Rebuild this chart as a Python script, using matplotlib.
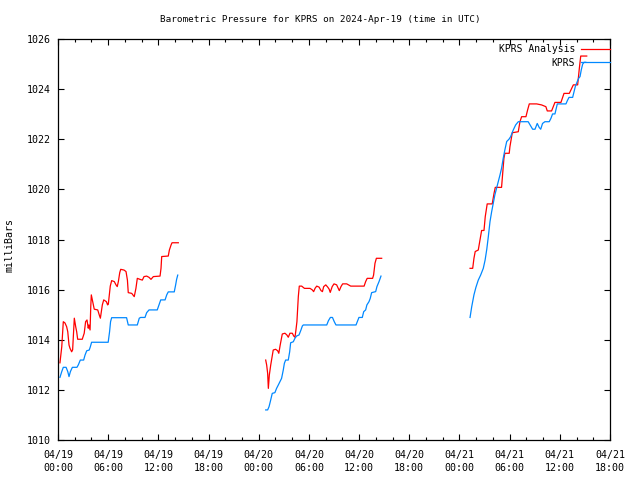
import numpy as np
import matplotlib
matplotlib.use("Agg")
import matplotlib.pyplot as plt
import matplotlib.dates as mdates

# ---- data (hours since 2024-04-19 00:00 UTC, pressure in mb) ----
an_h1 = [0.24, 0.45, 0.64, 0.83, 1.04, 1.16, 1.32, 1.44, 1.63, 1.75, 1.83, 1.95, 2.12, 2.24, 2.35, 2.90,
         3.14, 3.30, 3.47, 3.62, 3.70, 3.83, 3.91, 3.98, 4.15, 4.34, 4.75, 4.94, 5.06, 5.30, 5.46, 5.78,
         5.94, 6.02, 6.13, 6.25, 6.42, 6.73, 6.94, 7.09, 7.21, 7.38, 7.50, 7.90, 8.13, 8.30, 8.40, 8.81,
         9.00, 9.12, 9.32, 9.48, 9.80, 10.08, 10.28, 10.60, 10.88, 11.12, 11.40, 12.20, 12.32, 12.40,
         13.19, 13.31, 13.52, 13.63, 14.38]
an_p1 = [1013.08, 1013.72, 1014.72, 1014.67, 1014.52, 1014.32, 1013.79, 1013.66, 1013.52, 1013.60,
         1014.12, 1014.86, 1014.52, 1014.32, 1014.02, 1014.02, 1014.26, 1014.72, 1014.79, 1014.46,
         1014.59, 1014.39, 1015.32, 1015.79, 1015.52, 1015.22, 1015.19, 1014.99, 1014.86, 1015.39,
         1015.59, 1015.52, 1015.39, 1015.42, 1015.79, 1016.14, 1016.36, 1016.32, 1016.19, 1016.12,
         1016.32, 1016.68, 1016.81, 1016.78, 1016.72, 1016.38, 1015.88, 1015.85, 1015.77, 1015.72,
         1016.05, 1016.45, 1016.41, 1016.38, 1016.52, 1016.54, 1016.49, 1016.41, 1016.52, 1016.54,
         1016.85, 1017.32, 1017.34, 1017.58, 1017.78, 1017.87, 1017.87]

an_h2 = [24.83, 24.95, 25.07, 25.15, 25.27, 25.44, 25.56, 25.73, 26.02, 26.26, 26.40, 26.57, 26.82,
         27.13, 27.37, 27.53, 27.74, 28.01, 28.18, 28.33, 28.45, 28.57, 28.65, 28.73, 28.85, 29.14,
         29.46, 30.13, 30.40, 30.57, 30.73, 30.93, 31.21, 31.45, 31.61, 31.77, 32.01, 32.25, 32.41,
         32.55, 32.79, 33.00, 33.32, 33.52, 33.64, 33.84, 34.04, 34.52, 35.00, 36.60, 36.78, 36.97,
         37.62, 37.74, 37.90, 38.06, 38.70]
an_p2 = [1013.19, 1012.99, 1012.66, 1012.06, 1012.59, 1012.99, 1013.26, 1013.59, 1013.62, 1013.56,
         1013.46, 1013.79, 1014.23, 1014.26, 1014.19, 1014.10, 1014.26, 1014.26, 1014.15, 1014.10,
         1014.39, 1014.72, 1015.19, 1015.72, 1016.14, 1016.14, 1016.05, 1016.05, 1015.99, 1015.92,
         1016.05, 1016.14, 1016.10, 1015.96, 1015.92, 1016.12, 1016.19, 1016.10, 1016.02, 1015.89,
         1016.12, 1016.23, 1016.19, 1016.05, 1015.96, 1016.12, 1016.23, 1016.23, 1016.14, 1016.14,
         1016.32, 1016.45, 1016.45, 1016.58, 1017.05, 1017.25, 1017.25]

an_h3 = [49.26, 49.58, 49.73, 49.89, 50.25, 50.45, 50.65, 50.93, 51.09, 51.32, 51.92, 52.13, 52.28,
         53.04, 53.16, 53.32, 53.44, 53.95, 54.04, 54.31, 55.03, 55.24, 55.43, 55.95, 56.15, 56.35,
         57.23, 57.82, 58.34, 58.50, 59.02, 59.22, 59.42, 60.13, 60.34, 60.50, 61.13, 61.42, 61.62,
         62.14, 62.34, 62.50, 63.22]
an_p3 = [1016.85, 1016.85, 1017.25, 1017.52, 1017.58, 1017.98, 1018.36, 1018.36, 1018.91, 1019.42,
         1019.42, 1019.84, 1020.08, 1020.08, 1020.64, 1021.24, 1021.44, 1021.44, 1021.70, 1022.26,
         1022.30, 1022.70, 1022.90, 1022.90, 1023.17, 1023.41, 1023.41, 1023.37, 1023.30, 1023.13,
         1023.13, 1023.30, 1023.47, 1023.47, 1023.67, 1023.83, 1023.83, 1024.03, 1024.17, 1024.17,
         1024.83, 1025.32, 1025.32]

ob_h1 = [0.24, 0.45, 0.64, 0.96, 1.16, 1.32, 1.48, 1.71, 2.27, 2.43, 2.67, 3.07, 3.23, 3.43, 3.74,
         3.86, 4.02, 6.00, 6.17, 6.29, 6.42, 8.20, 8.40, 9.48, 9.72, 9.88, 10.40, 10.60, 10.88, 11.87,
         12.11, 12.28, 12.80, 13.00, 13.18, 13.90, 14.07, 14.19, 14.31]
ob_p1 = [1012.50, 1012.73, 1012.90, 1012.90, 1012.73, 1012.53, 1012.73, 1012.90, 1012.90, 1013.00,
         1013.19, 1013.19, 1013.39, 1013.56, 1013.59, 1013.72, 1013.90, 1013.90, 1014.32, 1014.72,
         1014.88, 1014.88, 1014.59, 1014.59, 1014.86, 1014.89, 1014.89, 1015.08, 1015.19, 1015.19,
         1015.43, 1015.59, 1015.59, 1015.79, 1015.91, 1015.91, 1016.19, 1016.41, 1016.58]

ob_h2 = [24.83, 25.07, 25.23, 25.38, 25.62, 25.94, 26.14, 26.34, 26.54, 26.74, 26.94, 27.06, 27.22,
         27.53, 27.70, 27.82, 28.13, 28.33, 28.53, 28.81, 29.05, 29.21, 29.33, 32.13, 32.33, 32.57,
         32.81, 33.04, 33.24, 35.63, 35.83, 35.99, 36.39, 36.55, 36.79, 36.94, 37.18, 37.34, 37.50,
         37.98, 38.14, 38.38, 38.62]
ob_p2 = [1011.20, 1011.20, 1011.33, 1011.53, 1011.86, 1011.89, 1012.06, 1012.19, 1012.33, 1012.46,
         1012.79, 1013.06, 1013.19, 1013.19, 1013.52, 1013.88, 1013.92, 1014.06, 1014.15, 1014.19,
         1014.39, 1014.55, 1014.59, 1014.59, 1014.76, 1014.89, 1014.89, 1014.72, 1014.59, 1014.59,
         1014.76, 1014.89, 1014.89, 1015.12, 1015.19, 1015.39, 1015.52, 1015.65, 1015.88, 1015.92,
         1016.12, 1016.32, 1016.54]

ob_h3 = [49.26, 49.46, 49.73, 49.97, 50.25, 50.54, 50.85, 51.06, 51.26, 51.45, 51.65, 51.85, 52.04,
         52.24, 52.44, 52.64, 52.85, 53.04, 53.24, 53.44, 53.65, 53.92, 54.12, 54.43, 54.72, 55.03,
         56.22, 56.51, 56.75, 57.03, 57.30, 57.54, 57.71, 57.94, 58.22, 58.73, 58.93, 59.14, 59.42,
         59.70, 60.74, 60.90, 61.10, 61.54, 61.70, 61.85, 62.09, 62.25, 62.41, 62.57, 62.74, 62.90,
         63.10]
ob_p3 = [1014.89, 1015.32, 1015.79, 1016.09, 1016.38, 1016.58, 1016.85, 1017.18, 1017.61, 1018.11,
         1018.71, 1019.11, 1019.44, 1019.78, 1020.04, 1020.31, 1020.58, 1020.84, 1021.24, 1021.58,
         1021.91, 1022.00, 1022.10, 1022.37, 1022.57, 1022.70, 1022.70, 1022.53, 1022.40, 1022.40,
         1022.63, 1022.47, 1022.40, 1022.63, 1022.70, 1022.70, 1022.83, 1023.01, 1023.01, 1023.41,
         1023.41, 1023.54, 1023.67, 1023.67, 1023.90, 1024.10, 1024.30, 1024.43, 1024.50, 1024.77,
         1025.00, 1025.07, 1025.07]

series_labels = ["KPRS Analysis", "KPRS"]
series_colors = ["#ff0000", "#0088ff"]
title = "Barometric Pressure for KPRS on 2024-Apr-19 (time in UTC)"
y_label = "milliBars"
start = np.datetime64("2024-04-19T00:00")
span_hours = 66
y_min, y_max = 1010, 1026


def join(segments):
    hs, ps = [], []
    for h, p in segments:
        if hs:
            hs.append(np.nan)
            ps.append(np.nan)
        hs.extend(h)
        ps.extend(p)
    hs = np.array(hs, dtype=float)
    t = np.array([start + np.timedelta64(int(round(v * 60)), "m") if np.isfinite(v)
                  else np.datetime64("NaT") for v in hs], dtype="datetime64[m]")
    return t, np.array(ps, dtype=float)


an_t, an_p = join([(an_h1, an_p1), (an_h2, an_p2), (an_h3, an_p3)])
ob_t, ob_p = join([(ob_h1, ob_p1), (ob_h2, ob_p2), (ob_h3, ob_p3)])

font = "DejaVu Sans Mono"
fs = 7.2
plt.rcParams["font.family"] = font

fig = plt.figure(figsize=(6.4, 4.8), dpi=100)
ax = fig.add_axes([58 / 640, 1 - 440 / 480, 552 / 640, 401 / 480])

ax.plot(an_t, an_p, color=series_colors[0], lw=0.9, label=series_labels[0])
ax.plot(ob_t, ob_p, color=series_colors[1], lw=0.9, label=series_labels[1])

ax.set_xlim(start, start + np.timedelta64(span_hours, "h"))
ax.set_ylim(y_min, y_max)
ax.set_yticks(np.arange(y_min, y_max + 1, 2))
ax.xaxis.set_major_locator(mdates.HourLocator(byhour=[0, 6, 12, 18]))
ax.xaxis.set_minor_locator(mdates.HourLocator(byhour=list(range(0, 24, 2))))
ax.xaxis.set_major_formatter(mdates.DateFormatter("%m/%d\n%H:%M"))

ax.tick_params(axis="both", which="both", direction="in", top=True, right=True,
               labelsize=fs, colors="black", width=0.8)
ax.tick_params(axis="both", which="major", length=4)
ax.tick_params(axis="x", which="minor", length=2.2)
ax.tick_params(axis="x", which="major", pad=7)
ax.tick_params(axis="y", which="major", pad=5)
for lab in ax.get_xticklabels():
    lab.set_linespacing(1.35)
for sp in ax.spines.values():
    sp.set_linewidth(0.9)
    sp.set_color("black")

fig.text(0.5, 1 - 19 / 480, title, ha="center", va="center", fontsize=6.7)
fig.text(10 / 640, 1 - 245 / 480, y_label, ha="center", va="center", rotation=90, fontsize=7.2)

leg = ax.legend(loc="upper right", bbox_to_anchor=(1.0, 1.0 - 5.0 / 401), frameon=False,
                markerfirst=False, fontsize=7, handlelength=3.0, handletextpad=0.6,
                borderaxespad=0.0, borderpad=0.0, labelspacing=0.4)

fig.savefig("out.png", dpi=100)
